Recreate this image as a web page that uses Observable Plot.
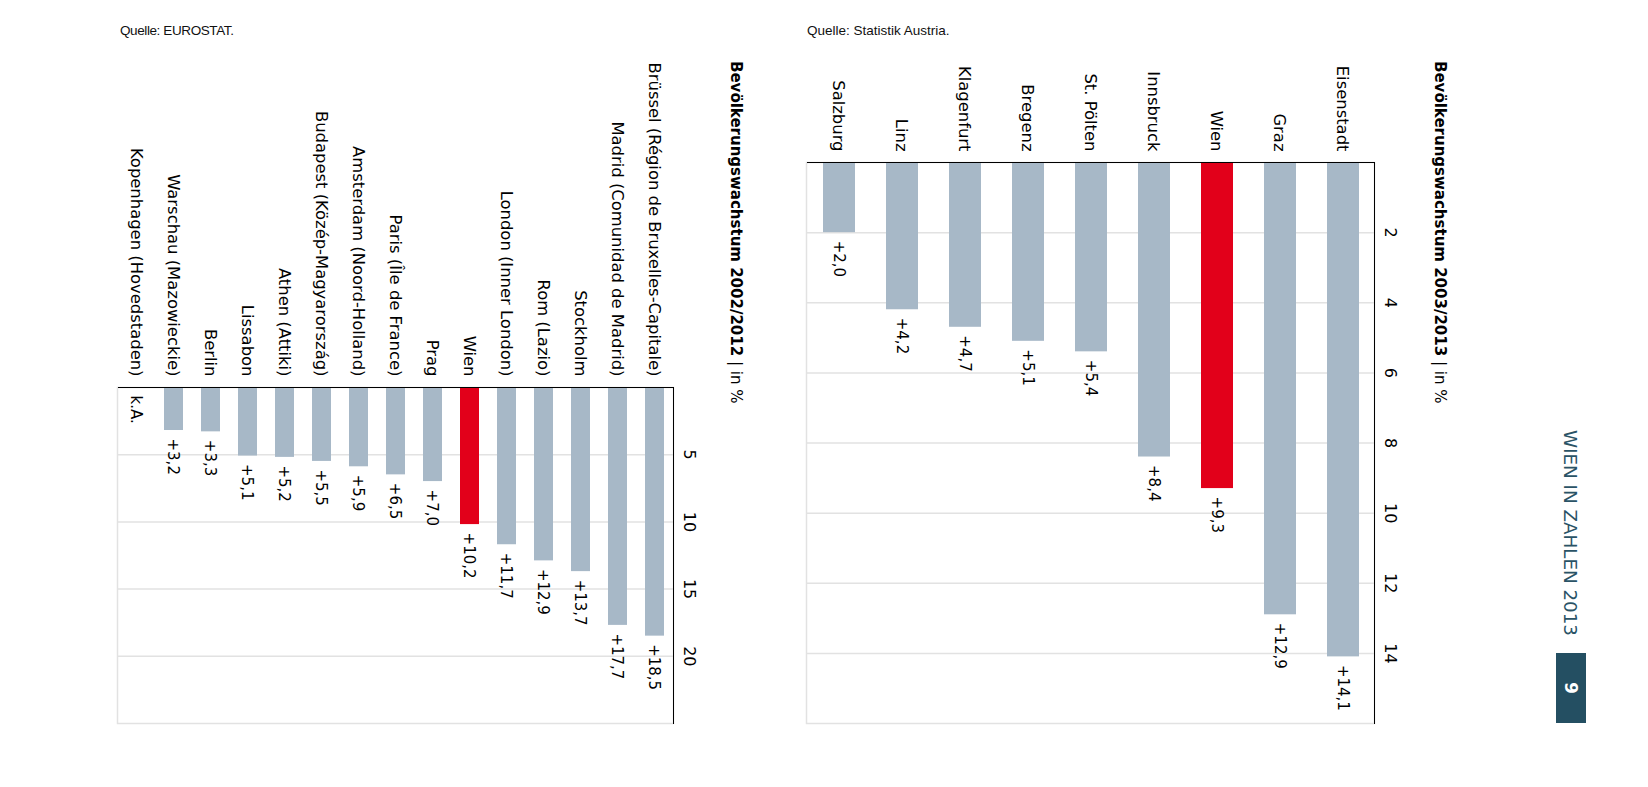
<!DOCTYPE html>
<html>
<head>
<meta charset="utf-8">
<script src="https://cdn.jsdelivr.net/npm/d3@7"></script>
<script src="https://cdn.jsdelivr.net/npm/@observablehq/plot@0.6"></script>
<style>
  html, body { margin:0; padding:0; background:#fff; width:1648px; height:787px; overflow:hidden; font-family:"DejaVu Sans", sans-serif; }
  .src { position:absolute; top:23px; font-family:"Liberation Sans Narrow", "Liberation Sans", sans-serif; font-size:13.5px; color:#111; white-space:nowrap; }
  #rot { position:absolute; left:1648px; top:0; width:787px; height:1648px; transform-origin:0 0; transform:rotate(90deg); }
  .title { position:absolute; left:61px; font-size:15px; line-height:20px; white-space:nowrap; color:#000; }
  .title b { font-weight:bold; }
  .chart { position:absolute; left:0; }
  #brand { position:absolute; left:0; width:636px; top:67px; line-height:22px; text-align:right; font-size:18.3px; color:#2a5366; font-weight:normal; white-space:nowrap; }
  #page { position:absolute; left:653px; top:62px; width:70px; height:30px; background:#244f62; color:#fff; font-weight:bold; font-size:17px; line-height:30px; text-align:center; }
</style>
</head>
<body>
<div class="src" style="left:120px; letter-spacing:-0.4px">Quelle: EUROSTAT.</div>
<div class="src" style="left:807px">Quelle: Statistik Austria.</div>
<div id="rot">
  <div id="brand">WIEN IN ZAHLEN 2013</div>
  <div id="page">9</div>
  <div class="title" style="top:198px"><b>Bevölkerungswachstum 2003/2013</b> | in %</div>
  <div class="chart" id="at" style="top:240px"></div>
  <div class="title" style="top:902px"><b>Bevölkerungswachstum 2002/2012</b> | in %</div>
  <div class="chart" id="eu" style="top:940px"></div>
</div>
<script>
// Austria 2003/2013
const atCities = ["Eisenstadt", "Graz", "Wien", "Innsbruck", "St. Pölten", "Bregenz", "Klagenfurt", "Linz", "Salzburg"];
const atValues = [14.1, 12.9, 9.3, 8.4, 5.4, 5.1, 4.7, 4.2, 2.0];
const atTicks = [2, 4, 6, 8, 10, 12, 14];
const atDomain = [0, 16];

// EU capitals 2002/2012
const euCities = ["Brüssel (Région de Bruxelles-Capitale)", "Madrid (Comunidad de Madrid)", "Stockholm", "Rom (Lazio)", "London (Inner London)", "Wien", "Prag", "Paris (Île de France)", "Amsterdam (Noord-Holland)", "Budapest (Közép-Magyarország)", "Athen (Attiki)", "Lissabon", "Berlin", "Warschau (Mazowieckie)", "Kopenhagen (Hovedstaden)"];
const euValues = [18.5, 17.7, 13.7, 12.9, 11.7, 10.2, 7.0, 6.5, 5.9, 5.5, 5.2, 5.1, 3.3, 3.2, null];
const euTicks = [5, 10, 15, 20];
const euDomain = [0, 25];

const highlight = "Wien";
const GRAY = "#a7b8c7", RED = "#e2001a", GRID = "#e2e2e2";
const fmt = v => v == null ? "k.A." : "+" + d3.format(".1f")(v).replace(".", ",");

function chart(cities, values, ticks, domain, opts) {
  const data = cities.map((c, i) => ({city: c, value: values[i]}));
  return Plot.plot({
    width: opts.width, height: opts.height,
    marginLeft: opts.marginLeft, marginRight: opts.marginRight,
    marginTop: opts.marginTop, marginBottom: opts.marginBottom,
    style: {fontFamily: "DejaVu Sans, sans-serif", fontSize: "16px", color: "#000", background: "transparent"},
    x: {domain, axis: null},
    y: {domain: cities, paddingInner: 0.5, paddingOuter: 0.25, axis: null},
    marks: [
      Plot.frame({stroke: GRID, strokeWidth: 1.5}),
      Plot.gridX(ticks, {stroke: GRID, strokeOpacity: 1, strokeWidth: 1.5}),
      Plot.barX(data.filter(d => d.value != null && d.city !== highlight), {x: "value", y: "city", fill: GRAY}),
      Plot.barX(data.filter(d => d.value != null && d.city === highlight), {x: "value", y: "city", fill: RED}),
      Plot.ruleX([0], {stroke: "#000", strokeWidth: 1}),
      Plot.frame({anchor: "top", stroke: "#000", strokeWidth: 1}),
      Plot.axisX(ticks, {anchor: "top", label: null, tickSize: 0, tickPadding: 10, fontSize: 16, tickFormat: d => String(d)}),
      Plot.axisY({anchor: "left", label: null, tickSize: 0, tickPadding: 11, fontSize: 16.4}),
      Plot.text(data, {x: d => d.value ?? 0, y: "city", text: d => fmt(d.value), dx: 8, textAnchor: "start", fontSize: 15, fill: "#000"})
    ]
  });
}

document.getElementById("at").append(chart(atCities, atValues, atTicks, atDomain,
  {width: 760, height: 611, marginLeft: 162, marginRight: 37, marginTop: 33, marginBottom: 10}));
document.getElementById("eu").append(chart(euCities, euValues, euTicks, euDomain,
  {width: 760, height: 600, marginLeft: 387, marginRight: 37, marginTop: 34, marginBottom: 10}));
</script>
</body>
</html>
